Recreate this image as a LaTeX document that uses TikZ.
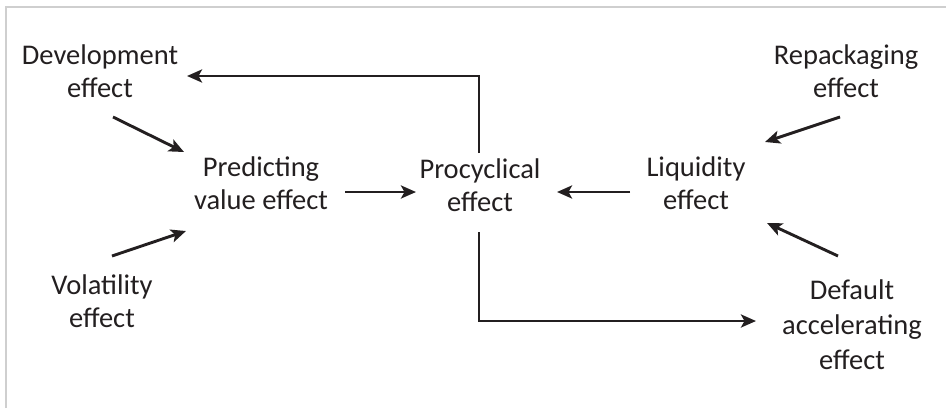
\documentclass[tikz,border=0pt]{standalone}
\usepackage{fontspec}
\setmainfont{Carlito}
\usetikzlibrary{arrows.meta}
\definecolor{ink}{HTML}{231F20}
\definecolor{frame}{HTML}{CFCFCF}
\tikzset{
  lbl/.style={align=center, inner sep=0pt, text=ink, font=\fontsize{28.5}{33.5}\selectfont},
  arr/.style={draw=ink, line width=2.9pt, -{Stealth[length=15pt,width=13pt,inset=3.5pt]}},
}
\begin{document}
\begin{tikzpicture}[x=1pt,y=-1pt]
\useasboundingbox (0,0) rectangle (946,408);
% frame (cut at right and bottom)
\draw[frame, line width=2pt] (5.5,408) -- (5.5,7) -- (946,7);

% nodes
\node[lbl] (dev) at (100,71) {Development\\effect};
\node[lbl] (rep) at (846,71) {Repackaging\\effect};
\node[lbl] (pred) at (261,183) {Predicting\\value effect};
\node[lbl] (pro) at (480,185) {Procyclical\\effect};
\node[lbl, font=\fontsize{28.5}{35}\selectfont] (def) at (852,325) {Default\\accelerating\\effect};
\node[lbl] (liq) at (696,183) {Liquidity\\effect};
\node[lbl] (vol) at (102,301) {Volatility\\effect};

% connector end points
\coordinate (devout) at (113,117);
\coordinate (predinA) at (184,152);
\coordinate (volout) at (112,256);
\coordinate (predinB) at (186,231);
\coordinate (predout) at (345,192);
\coordinate (proinA) at (416,192);
\coordinate (liqout) at (630,192);
\coordinate (proinB) at (557,192);
\coordinate (repout) at (840,117);
\coordinate (liqinA) at (765,142);
\coordinate (defout) at (838,256);
\coordinate (liqinB) at (767,223);
\coordinate (protop) at (479,153);
\coordinate (devin) at (187,76);
\coordinate (probot) at (479,232);
\coordinate (defin) at (756,321);

% connectors
\draw[arr] (devout) -- (predinA);
\draw[arr] (volout) -- (predinB);
\draw[arr] (predout) -- (proinA);
\draw[arr] (liqout) -- (proinB);
\draw[arr] (repout) -- (liqinA);
\draw[arr] (defout) -- (liqinB);
\draw[arr] (protop) |- (devin);
\draw[arr] (probot) |- (defin);
\end{tikzpicture}
\end{document}
